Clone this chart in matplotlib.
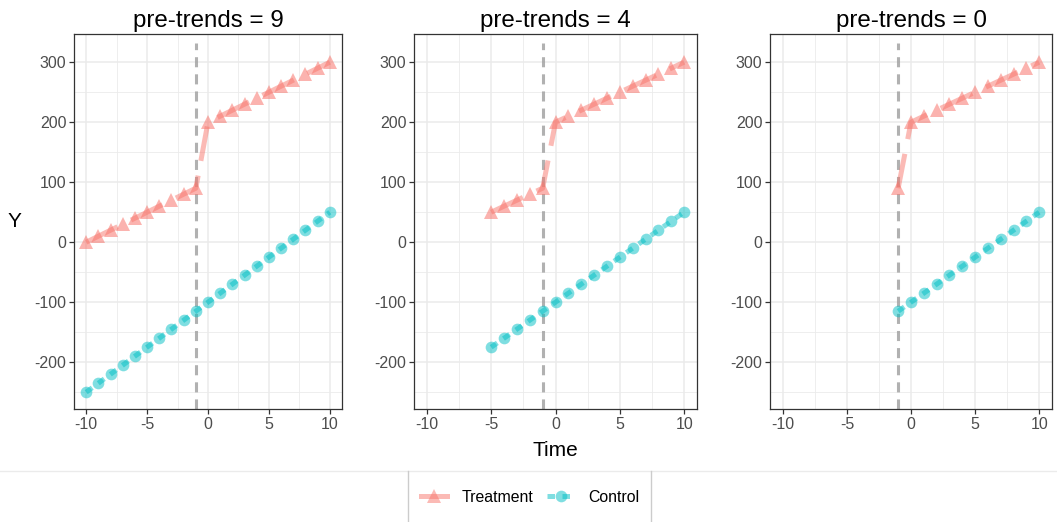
import numpy as np
import matplotlib
matplotlib.use("Agg")
import matplotlib.pyplot as plt
from matplotlib.lines import Line2D

plt.rcParams['font.family'] = ['Liberation Sans', 'DejaVu Sans']
plt.rcParams['axes.unicode_minus'] = False

# ---- data ----
pre_trends = [9, 4, 0]
time_all = list(range(-10, 11))
treat_post = [200, 210, 220, 230, 240, 250, 260, 270, 280, 290, 300]   # t=0..10
treat_pre = [0, 10, 20, 30, 40, 50, 60, 70, 80, 90]                    # t=-10..-1
control_all = [-250, -235, -220, -205, -190, -175, -160, -145, -130, -115,
               -100, -85, -70, -55, -40, -25, -10, 5, 20, 35, 50]       # t=-10..10
treat_time = -1
xticks = [-10, -5, 0, 5, 10]
yticks = [-200, -100, 0, 100, 200, 300]

TREAT = '#F8766D'
CTRL = '#00BFC4'

W, H = 1057, 522
fig = plt.figure(figsize=(W / 100, H / 100), dpi=100)

panels = [(74, 342), (414, 697), (770, 1052)]
top_px, bot_px = 34, 409

def fx(px):
    return px / W

def fy(py):
    return 1 - py / H

treat_all = treat_pre + treat_post

for (l, r), k in zip(panels, pre_trends):
    ax = fig.add_axes([fx(l), fy(bot_px), fx(r - l), (bot_px - top_px) / H])
    start = -1 - k
    t = [x for x in time_all if x >= start]
    idx0 = time_all.index(start)
    ty = treat_all[idx0:]
    cy = control_all[idx0:]

    ax.set_xlim(-11, 11)
    ax.set_ylim(-278, 347)
    ax.set_xticks(xticks)
    ax.set_xticks([-7.5, -2.5, 2.5, 7.5], minor=True)
    ax.set_yticks(yticks)
    ax.set_yticks([-250, -150, -50, 50, 150, 250], minor=True)
    ax.grid(True, which='major', color='#EBEBEB', lw=1.1)
    ax.grid(True, which='minor', color='#EBEBEB', lw=0.6)
    ax.set_axisbelow(True)
    for s in ax.spines.values():
        s.set_color('#333333')
        s.set_linewidth(0.9)
    ax.tick_params(which='major', length=3.5, width=0.9, color='#333333',
                   labelsize=11.5, labelcolor='#4D4D4D', pad=2)
    ax.tick_params(which='minor', length=0)

    # vertical dashed line at treatment time
    ax.plot([treat_time, treat_time], [-278, 332], color='#9E9E9E', alpha=0.8,
            lw=2.2, linestyle=(0, (3.3, 2.3)), zorder=1)

    # lines
    ax.plot(t, ty, color=TREAT, alpha=0.5, lw=3.6, linestyle=(0, (7, 3)),
            solid_capstyle='butt', dash_capstyle='butt', zorder=2)
    ax.plot(t, cy, color=CTRL, alpha=0.5, lw=3.6, linestyle=(0, (1.5, 1.5)),
            dash_capstyle='butt', zorder=2)
    # points
    ax.plot(t, ty, linestyle='none', marker='^', ms=10.5, color=TREAT,
            alpha=0.55, markeredgewidth=0, zorder=3)
    ax.plot(t, cy, linestyle='none', marker='o', ms=8.4, color=CTRL,
            alpha=0.5, markeredgewidth=0, zorder=3)

    ax.set_title(f'pre-trends = {k}', fontsize=17.4, color='black', pad=5)

fig.text(fx(14), fy(221.5), 'Y', fontsize=15, ha='center', va='center')
fig.text(fx(555), fy(450), 'Time', fontsize=15, ha='center', va='center')

# legend region borders
fig.add_artist(Line2D([0, 1], [fy(471), fy(471)], transform=fig.transFigure,
                      color='#EBEBEB', lw=1))
for xp in (408, 651):
    fig.add_artist(Line2D([fx(xp), fx(xp)], [fy(471), 0], transform=fig.transFigure,
                          color='#CCCCCC', lw=1))

handles = [
    Line2D([], [], color=TREAT, alpha=0.5, lw=3.6, marker='^', ms=10.5,
           markeredgewidth=0, markerfacecolor=TREAT),
    Line2D([], [], color=CTRL, alpha=0.5, lw=3.6, linestyle=(0, (1.5, 1.5)),
           marker='o', ms=8.4, markeredgewidth=0, markerfacecolor=CTRL),
]
fig.legend(handles, ['Treatment', 'Control'], loc='center',
           bbox_to_anchor=(fx(530), fy(497)), ncol=2, frameon=False,
           fontsize=11.4, handlelength=1.65, handletextpad=0.9,
           columnspacing=0.9)

fig.savefig('out.png', dpi=100)
